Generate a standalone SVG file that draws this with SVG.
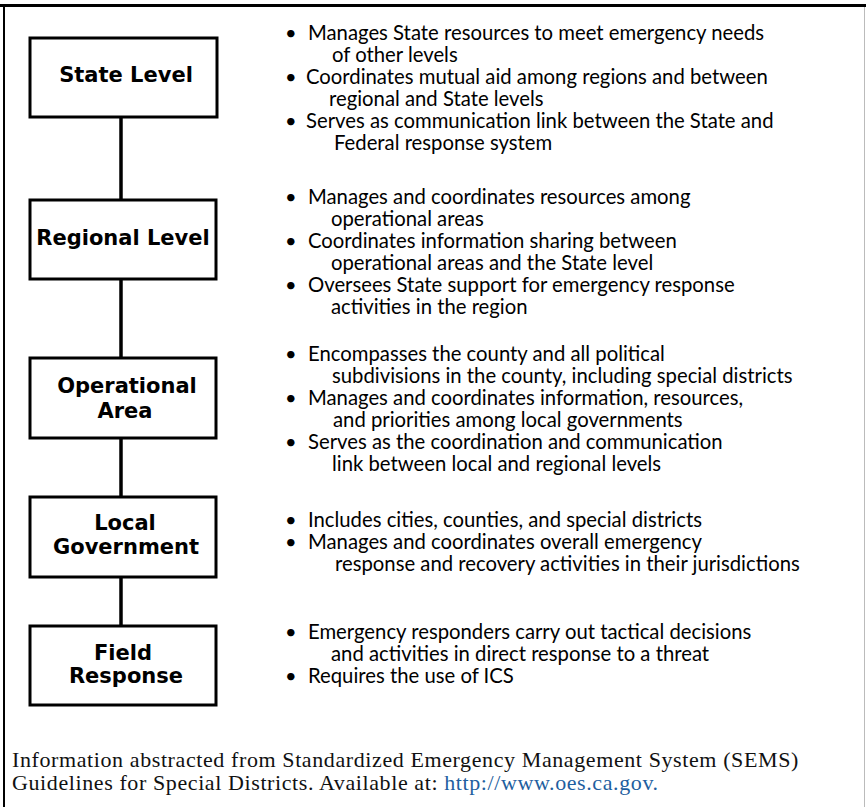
<svg xmlns="http://www.w3.org/2000/svg" width="866" height="807" viewBox="0 0 866 807">
<style>
.box{fill:#fff;stroke:#000;stroke-width:3}
.lbl{font-family:"DejaVu Sans",sans-serif;font-weight:bold;font-size:21px;fill:#000;text-anchor:middle}
.t{font-family:Lato,"Liberation Sans",sans-serif;font-size:20.3px;fill:#000}
.b{font-family:Lato,"Liberation Sans",sans-serif;font-size:20px;fill:#000}
.conn{stroke:#000;stroke-width:3.5;fill:none}
.foot{font-family:"Liberation Serif",serif;font-size:22px;letter-spacing:0.6px;fill:#111}
.link{fill:#1f5fa0}
</style>
<rect x="0" y="0" width="866" height="807" fill="#fff"/>
<g id="frame">
<line x1="0" y1="5.5" x2="866" y2="5.5" stroke="#000" stroke-width="3"/>
<line x1="4" y1="5" x2="4" y2="807" stroke="#000" stroke-width="2"/>
<line x1="864.5" y1="7" x2="864.5" y2="807" stroke="#bbb" stroke-width="1"/>
</g>
<g id="connectors">
<line class="conn" x1="121" y1="117" x2="121" y2="200"/>
<line class="conn" x1="121" y1="279" x2="121" y2="358"/>
<line class="conn" x1="121" y1="438" x2="121" y2="497"/>
<line class="conn" x1="121" y1="577" x2="121" y2="626"/>
</g>
<g id="state">
<rect class="box" x="30" y="38" width="187" height="79"/>
<text class="lbl" x="126" y="82">State Level</text>
<text class="b" x="285" y="40">•</text>
<text class="t" x="308" y="40">Manages State resources to meet emergency needs</text>
<text class="t" x="332" y="62">of other levels</text>
<text class="b" x="285" y="84">•</text>
<text class="t" x="306" y="84">Coordinates mutual aid among regions and between</text>
<text class="t" x="329" y="106">regional and State levels</text>
<text class="b" x="285" y="128">•</text>
<text class="t" x="306" y="128">Serves as communication link between the State and</text>
<text class="t" x="334" y="150">Federal response system</text>
</g>
<g id="regional">
<rect class="box" x="30" y="200" width="186" height="79"/>
<text class="lbl" x="123" y="245">Regional Level</text>
<text class="b" x="285" y="204">•</text>
<text class="t" x="308" y="204">Manages and coordinates resources among</text>
<text class="t" x="331" y="226">operational areas</text>
<text class="b" x="285" y="248">•</text>
<text class="t" x="308" y="248">Coordinates information sharing between</text>
<text class="t" x="331" y="270">operational areas and the State level</text>
<text class="b" x="285" y="292">•</text>
<text class="t" x="308" y="292">Oversees State support for emergency response</text>
<text class="t" x="331" y="314">activities in the region</text>
</g>
<g id="operational">
<rect class="box" x="30" y="358" width="186" height="80"/>
<text class="lbl" x="127" y="393">Operational</text>
<text class="lbl" x="125" y="418">Area</text>
<text class="b" x="285" y="361">•</text>
<text class="t" x="308" y="361">Encompasses the county and all political</text>
<text class="t" x="332" y="383">subdivisions in the county, including special districts</text>
<text class="b" x="285" y="405">•</text>
<text class="t" x="308" y="405">Manages and coordinates information, resources,</text>
<text class="t" x="333" y="427">and priorities among local governments</text>
<text class="b" x="285" y="449">•</text>
<text class="t" x="308" y="449">Serves as the coordination and communication</text>
<text class="t" x="332" y="471">link between local and regional levels</text>
</g>
<g id="local">
<rect class="box" x="30" y="497" width="186" height="80"/>
<text class="lbl" x="125" y="530">Local</text>
<text class="lbl" x="126" y="554">Government</text>
<text class="b" x="285" y="527">•</text>
<text class="t" x="308" y="527">Includes cities, counties, and special districts</text>
<text class="b" x="285" y="549">•</text>
<text class="t" x="308" y="549">Manages and coordinates overall emergency</text>
<text class="t" x="335" y="571">response and recovery activities in their jurisdictions</text>
</g>
<g id="field">
<rect class="box" x="30" y="626" width="186" height="79"/>
<text class="lbl" x="123" y="660">Field</text>
<text class="lbl" x="126" y="683">Response</text>
<text class="b" x="285" y="639">•</text>
<text class="t" x="308" y="639">Emergency responders carry out tactical decisions</text>
<text class="t" x="331" y="661">and activities in direct response to a threat</text>
<text class="b" x="285" y="683">•</text>
<text class="t" x="308" y="683">Requires the use of ICS</text>
</g>
<g id="footer">
<text class="foot" x="12" y="767">Information abstracted from Standardized Emergency Management System (SEMS)</text>
<text class="foot" x="12" y="790">Guidelines for Special Districts. Available at: <tspan class="link">http://www.oes.ca.gov.</tspan></text>
</g>
</svg>
